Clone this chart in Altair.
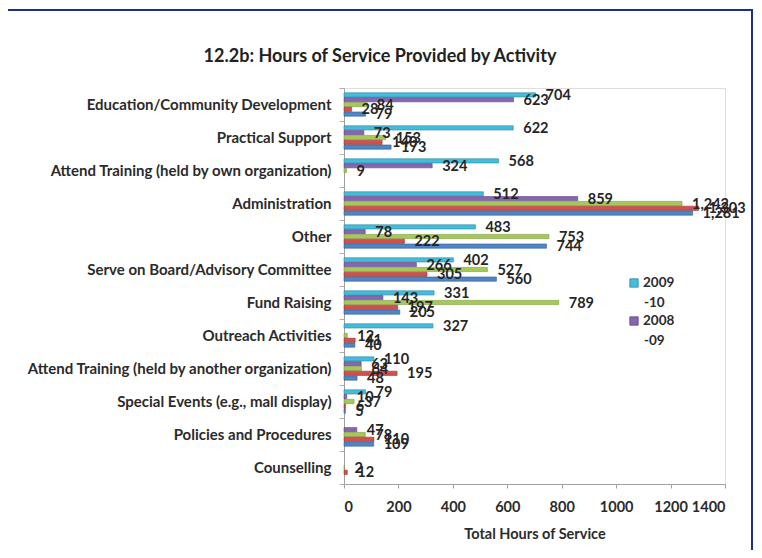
import altair as alt
import pandas as pd

categories = [
    "Education/Community Development",
    "Practical Support",
    "Attend Training (held by own organization)",
    "Administration",
    "Other",
    "Serve on Board/Advisory Committee",
    "Fund Raising",
    "Outreach Activities",
    "Attend Training (held by another organization)",
    "Special Events (e.g., mall display)",
    "Policies and Procedures",
    "Counselling",
]
series_names = ["2009-10", "2008-09", "2007-08", "2006-07", "2005-06"]
hours_2009_10 = [704, 622, 568, 512, 483, 402, 331, 327, 110, 79, None, None]
hours_2008_09 = [623, 73, 324, 859, 78, 266, 143, None, 63, 10, 47, None]
hours_2007_08 = [84, 153, 9, 1242, 753, 527, 789, 12, 64, 37, 78, 2]
hours_2006_07 = [28, 140, None, 1303, 222, 305, 197, 41, 195, 6, 110, 12]
hours_2005_06 = [79, 173, None, 1281, 744, 560, 205, 40, 48, 5, 109, None]
x_ticks = [0, 200, 400, 600, 800, 1000, 1200, 1400]
legend_series = ["2009-10", "2008-09"]
title_text = "12.2b: Hours of Service Provided by Activity"

colors = ["#45BCD9", "#8566B0", "#A5C85A", "#D0504C", "#4F86C6"]
edges = ["#2A8AA3", "#5E4485", "#7A963A", "#9A3532", "#335F94"]

rows = []
for s, vals in zip(series_names, [hours_2009_10, hours_2008_09, hours_2007_08,
                                  hours_2006_07, hours_2005_06]):
    for c, v in zip(categories, vals):
        if v is not None:
            rows.append({"activity": c, "series": s, "hours": v})
df = pd.DataFrame(rows)

FONT = "Lato"
TXT = "#2b2b2b"

y_enc = alt.Y(
    "activity:N",
    sort=categories,
    scale=alt.Scale(domain=categories, paddingInner=0, paddingOuter=0),
    axis=alt.Axis(title=None, tickBand="extent", labelFont=FONT, labelFontWeight="bold",
                  labelFontSize=15, labelColor=TXT, labelPadding=8, tickSize=5,
                  tickColor="#b0b0b0", domainColor="#a0a0a0", labelLimit=420),
)
yoff_enc = alt.YOffset(
    "series:N", sort=series_names,
    scale=alt.Scale(domain=series_names, paddingInner=0.12, paddingOuter=1.0),
)
x_enc = alt.X(
    "hours:Q",
    scale=alt.Scale(domain=[0, 1400], nice=False),
    axis=alt.Axis(values=x_ticks, format="d", grid=False, title="Total Hours of Service",
                  titleFont=FONT, titleFontWeight="bold", titleFontSize=14.5,
                  titleColor=TXT, titlePadding=14,
                  labelFont=FONT, labelFontWeight="bold", labelFontSize=14.5,
                  labelColor=TXT, labelPadding=12, tickSize=4,
                  tickColor="#a0a0a0", domainColor="#a0a0a0"),
)

bars = alt.Chart(df).mark_bar(strokeWidth=0.6).encode(
    x=x_enc,
    y=y_enc,
    yOffset=yoff_enc,
    color=alt.Color("series:N", scale=alt.Scale(domain=series_names, range=colors),
                    legend=None),
    stroke=alt.Stroke("series:N", scale=alt.Scale(domain=series_names, range=edges),
                      legend=None),
)

labels = alt.Chart(df).mark_text(
    align="left", baseline="middle", dx=10, dy=1, font=FONT, fontWeight="bold",
    fontSize=14.5, color="#262626",
).encode(
    x="hours:Q",
    y=alt.Y("activity:N", sort=categories),
    yOffset=alt.YOffset("series:N", sort=series_names),
    text=alt.Text("hours:Q", format=","),
)

# legend (only the first two entries are visible in the original)
legend_layers = []
for i, s in enumerate(legend_series):
    top = 195 + i * 38
    one = alt.Chart(alt.Data(values=[{"s": s}]))
    legend_layers.append(
        one.mark_square(size=70, color=colors[i], stroke=edges[i], strokeWidth=0.8,
                        opacity=1).encode(x=alt.value(290), y=alt.value(top))
    )
    for j, part in enumerate([s[:4], s[4:]]):
        legend_layers.append(
            one.mark_text(align="left", baseline="middle", font=FONT, fontWeight="bold",
                          fontSize=13.5, color=TXT).encode(
                x=alt.value(299 + (1 if j else 0)), y=alt.value(top + 20 * j),
                text=alt.value(part))
        )

title = alt.Chart(alt.Data(values=[{"t": title_text}])).mark_text(
    align="center", baseline="middle", font=FONT, fontWeight="bold", fontSize=18,
    color="#222222",
).encode(x=alt.value(36), y=alt.value(-31), text=alt.value(title_text))

border = alt.Chart(alt.Data(values=[{"k": 1}])).mark_rect(
    filled=False, stroke="#1F2E8C", strokeWidth=2, clip=False
).encode(
    x=alt.value(-337), x2=alt.value(408), y=alt.value(-78), y2=alt.value(540)
)

chart = alt.layer(border, title, bars, labels, *legend_layers).properties(
    width=381,
    height=396,
    padding={"left": 336, "top": 80, "right": 29, "bottom": 66},
    autosize=alt.AutoSizeParams(type="none"),
).configure_view(strokeWidth=0).configure(background="white")

chart.save("out.html", embed_options={"renderer": "svg", "actions": False})
